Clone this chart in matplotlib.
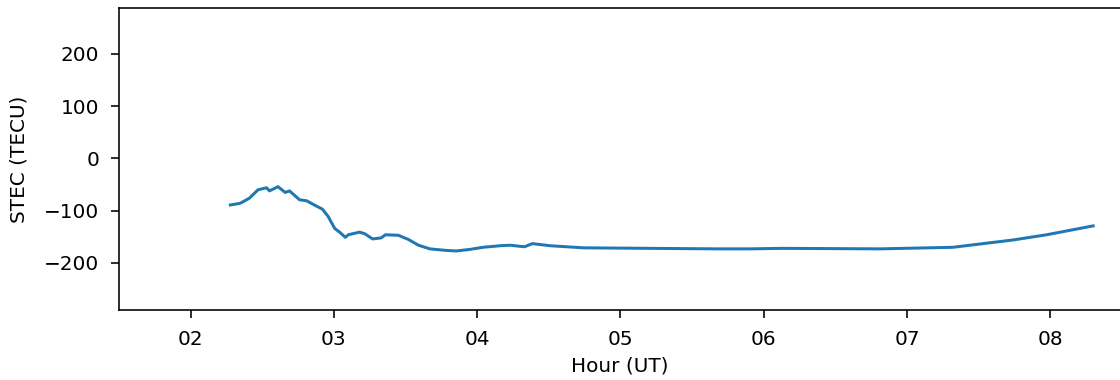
import datetime as dt
import matplotlib
matplotlib.use("Agg")
import matplotlib.pyplot as plt
import matplotlib.dates as mdates

plt.rcParams["font.family"] = ["DejaVu Sans"]
plt.rcParams["font.size"] = 10

# hours (UT) and slant TEC values
hours = [2.277, 2.342, 2.365, 2.41, 2.47, 2.53, 2.55, 2.61, 2.66, 2.69,
         2.76, 2.81, 2.87, 2.92, 2.96, 3.006, 3.04, 3.08, 3.10, 3.18,
         3.215, 3.27, 3.33, 3.36, 3.45, 3.52, 3.59, 3.67, 3.785, 3.855,
         3.95, 4.04, 4.16, 4.23, 4.33, 4.385, 4.51, 4.74, 5.205, 5.67,
         5.90, 6.13, 6.81, 7.32, 7.74, 7.975, 8.30]
stec = [-89, -86, -83, -76, -60, -56, -62, -54, -65, -62,
        -79, -81, -90, -97, -111, -134, -141, -151, -146, -141,
        -144, -154, -152, -146, -147, -155, -166, -173, -176, -177,
        -174, -170, -167, -166, -169, -163, -167, -171, -172, -173,
        -173, -172, -173, -170, -156, -146, -129]

base = dt.datetime(2020, 1, 1)
times = [base + dt.timedelta(hours=h) for h in hours]

DPI = 144
fig = plt.figure(figsize=(1120 / DPI, 380 / DPI), dpi=DPI)
ax = fig.add_axes([119 / 1120, 70 / 380, 1002 / 1120, 302 / 380])
ax.plot(times, stec, color="#1f77b4", linewidth=1.5)

ax.set_xlim(base + dt.timedelta(hours=1.5), base + dt.timedelta(hours=8.494))
ax.set_ylim(-290, 288)
ax.xaxis.set_major_locator(mdates.HourLocator())
ax.xaxis.set_major_formatter(mdates.DateFormatter("%H"))
ax.tick_params(axis="both", length=4, pad=6)
ax.set_xlabel("Hour (UT)")
ax.set_ylabel("STEC (TECU)", labelpad=7.5)

fig.savefig("out.png", dpi=DPI)
